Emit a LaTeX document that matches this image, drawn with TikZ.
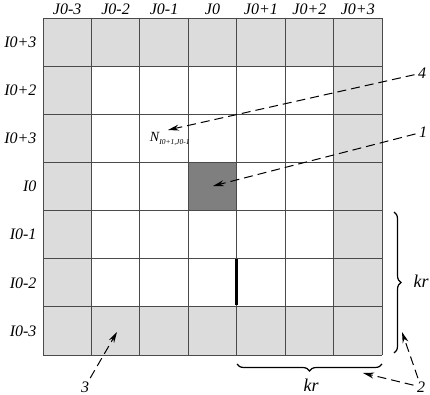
\documentclass[tikz,border=0pt]{standalone}
\usepackage{fontspec}
\setmainfont{Liberation Serif}
\usepackage{xcolor}
\definecolor{cellBorder}{HTML}{DCDCDC}
\definecolor{cellCentre}{HTML}{7F7F7F}
\definecolor{gridLine}{HTML}{4A4A4A}
\usetikzlibrary{arrows.meta,decorations.pathreplacing}

\begin{document}
\begin{tikzpicture}[x=1pt, y=-1pt, font=\fontsize{16}{19}\selectfont\itshape,
  leaderArrow/.style={dash pattern=on 9pt off 5pt, line width=1pt, -{Stealth[length=11pt, width=6pt]}},
  braceMark/.style={decorate, line width=1.2pt}]
  \useasboundingbox (0,0) rectangle (430,395);
  % cells
  \fill[cellBorder] (43,18) rectangle (382,355);
  \fill[white] (91.43,66.14) rectangle (333.57,306.86);
  \fill[cellCentre] (188.29,162.43) rectangle (236.71,210.57);
  \foreach \i in {0,...,7} {
    \draw[gridLine, line width=0.8pt] ({43+48.43*\i},18) -- ({43+48.43*\i},355);
    \draw[gridLine, line width=0.8pt] (43,{18+48.14*\i}) -- (382,{18+48.14*\i});
  }
  \draw[line width=2.6pt] (236.71,259) -- (236.71,305);
  % column and row labels
  \node (cJm3) at (67.2,9) {J0-3};
  \node (cJm2) at (115.6,9) {J0-2};
  \node (cJm1) at (164.1,9) {J0-1};
  \node (cJ0) at (212.5,9) {J0};
  \node (cJp1) at (260.9,9) {J0+1};
  \node (cJp2) at (309.4,9) {J0+2};
  \node (cJp3) at (357.8,9) {J0+3};
  \node[anchor=east] (rIp3) at (40,42.1) {I0+3};
  \node[anchor=east] (rIp2) at (40,90.2) {I0+2};
  \node[anchor=east] (rIp1) at (40,138.4) {I0+3};
  \node[anchor=east] (rI0) at (40,186.5) {I0};
  \node[anchor=east] (rIm1) at (40,234.6) {I0-1};
  \node[anchor=east] (rIm2) at (40,282.8) {I0-2};
  \node[anchor=east] (rIm3) at (40,330.9) {I0-3};
  % marked cell
  \node[font=\fontsize{14}{16}\selectfont\itshape, inner sep=0pt] (nCell) at (170,139)
    {N\textsubscript{\fontsize{7.5}{8}\selectfont I0+1,J0-1}};
  \coordinate (nTip) at (168,130);
  \coordinate (cTip) at (213,186);
  \coordinate (bTip) at (117,332);
  \coordinate (hTip) at (363,373);
  \coordinate (vTip) at (402,332);
  % braces
  \draw[braceMark, decoration={brace, amplitude=7pt}] (394,212) -- (394,353);
  \draw[braceMark, decoration={brace, amplitude=7pt}] (382,364) -- (237,364);
  \node (krV) at (421,281) {\fontsize{18}{20}\selectfont kr};
  \node (krH) at (311,385) {\fontsize{18}{20}\selectfont kr};
  % callouts
  \node (lab4) at (422,73) {4};
  \node (lab1) at (423,132) {1};
  \node (lab2) at (421,387) {2};
  \node (lab3) at (85,387) {3};
  \draw[leaderArrow] (lab4) -- (nTip);
  \draw[leaderArrow] (lab1) -- (cTip);
  \draw[leaderArrow] (lab3) -- (bTip);
  \draw[leaderArrow] (lab2) -- (hTip);
  \draw[leaderArrow] (lab2) -- (vTip);
\end{tikzpicture}
\end{document}
